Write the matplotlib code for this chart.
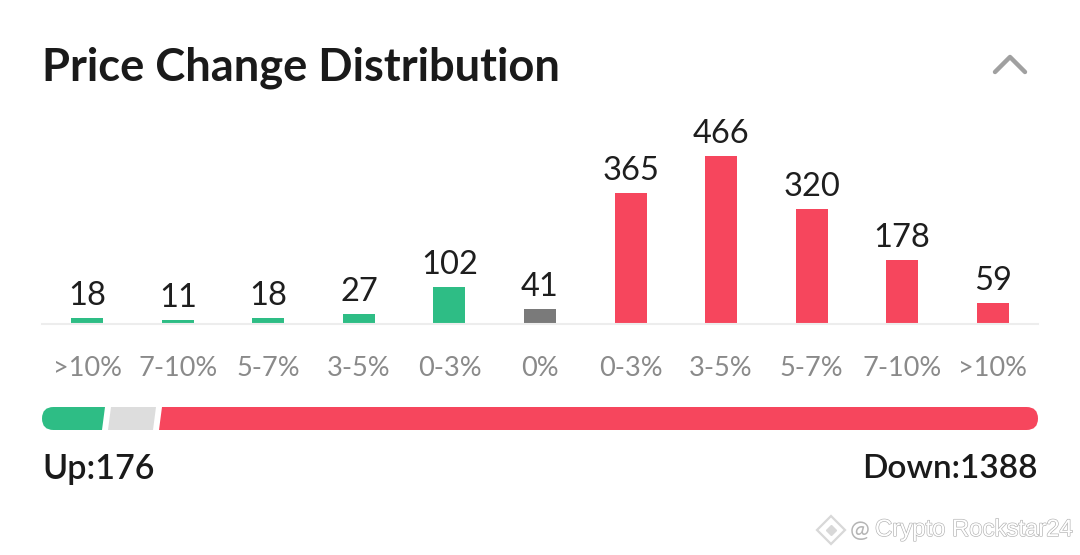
import matplotlib
matplotlib.use("Agg")
import matplotlib.pyplot as plt
import matplotlib.patheffects as pe
from matplotlib.patches import FancyBboxPatch, Polygon

plt.rcParams["font.family"] = ["Lato", "DejaVu Sans"]

W, H = 1080, 555

# data
labels = [">10%", "7-10%", "5-7%", "3-5%", "0-3%", "0%", "0-3%", "3-5%", "5-7%", "7-10%", ">10%"]
counts = [18, 11, 18, 27, 102, 41, 365, 466, 320, 178, 59]
groups = ["up"] * 5 + ["flat"] + ["down"] * 5
up_total = 176
down_total = 1388
# drawn length of each part of the strip (it is not proportional to the totals)
strip_parts = [64, 51, 881]

GREEN = "#2EBD85"
RED = "#F6465D"
GREY = "#7A7A7A"
LIGHT = "#DDDDDD"
colors = {"up": GREEN, "flat": GREY, "down": RED}

fig = plt.figure(figsize=(W / 100, H / 100), dpi=100, facecolor="white")


def px_axes(left, top, right, bottom):
    return fig.add_axes([left / W, 1 - bottom / H, (right - left) / W, (bottom - top) / H])


# bars
ax = px_axes(42, 100, 1038, 324)
ax.bar(range(len(counts)), counts, width=0.354, color=[colors[g] for g in groups])
ax.set_xlim(-0.5, len(counts) - 0.5)
ax.set_ylim(0, 622)
ax.set_yticks([])
ax.set_xticks(range(len(labels)))
ax.set_xticklabels(labels, fontsize=19.5, color="#8A8A8A")
ax.tick_params(axis="x", length=0, pad=23)
for side in ["top", "left", "right"]:
    ax.spines[side].set_visible(False)
ax.spines["bottom"].set_color("#EDEDED")
ax.spines["bottom"].set_linewidth(1.5)
ax.patch.set_alpha(0)
for i, v in enumerate(counts):
    ax.annotate(str(v), (i, v), xytext=(0, 5), textcoords="offset points",
                ha="center", va="bottom", fontsize=23.5, color="#1E1E1E")

# everything else sits on a pixel overlay
ov = fig.add_axes([0, 0, 1, 1])
ov.set_xlim(0, W)
ov.set_ylim(H, 0)
ov.axis("off")
ov.patch.set_alpha(0)

ov.text(42, 68, "Price Change Distribution", fontsize=32.6, fontweight="bold",
        color="#1A1A1A", ha="left", va="center")

ov.plot([995, 1010, 1025], [72, 57, 72], color="#A0A0A0", lw=3.2,
        solid_capstyle="round", solid_joinstyle="round")

# strip with rounded ends and slanted gaps
strip_l, strip_t, strip_b = 42, 407, 430
clip = FancyBboxPatch((strip_l + 11.5, strip_t + 11.5), sum(strip_parts) - 23, 0,
                      boxstyle="round,pad=11.5,rounding_size=11.5",
                      fc="none", ec="none", transform=ov.transData)
ov.add_patch(clip)
x = strip_l
for part, color in zip(strip_parts, [GREEN, LIGHT, RED]):
    poly = Polygon([(x + 2, strip_b), (x + 5, strip_t), (x + part - 1, strip_t),
                    (x + part - 4, strip_b)], closed=True, fc=color, ec="none")
    if x == strip_l:
        poly.set_xy([(x, strip_b), (x, strip_t), (x + part - 1, strip_t), (x + part - 4, strip_b)])
    if color == RED:
        poly.set_xy([(x + 2, strip_b), (x + 5, strip_t), (x + part, strip_t), (x + part, strip_b)])
    ov.add_patch(poly)
    poly.set_clip_path(clip)
    x += part

ov.text(42, 469, f"Up:{up_total}", fontsize=24.5, fontweight="semibold", color="#1A1A1A",
        ha="left", va="center")
ov.text(1038, 469, f"Down:{down_total}", fontsize=24, fontweight="semibold", color="#1A1A1A",
        ha="right", va="center")

# watermark
ov.plot([831], [530], marker="D", ms=14, mfc="white", mec="#D8D8D8", mew=1.6)
ov.plot([831], [530], marker="D", ms=5, mfc="#D8D8D8", mec="#D8D8D8")
ov.text(850, 530, "@", fontsize=17, color="#B5B5B5", ha="left", va="center")
ov.text(875, 530, "Crypto Rockstar24", fontsize=17.2, color="white", ha="left", va="center",
        family=["Liberation Sans", "DejaVu Sans"],
        path_effects=[pe.withStroke(linewidth=0.9, foreground="#B0B0B0")])

fig.savefig("out.png", dpi=100)
